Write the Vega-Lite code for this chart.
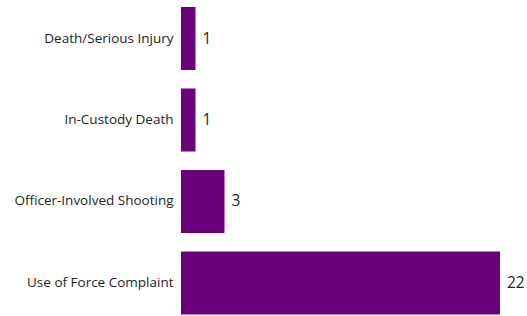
{
  "$schema": "https://vega.github.io/schema/vega-lite/v6.json",
  "autosize": "none",
  "width": 319,
  "height": 321.5,
  "padding": {"left": 181, "top": 0, "right": 27, "bottom": 0},
  "background": "white",
  "data": {
    "values": [
      {"category": "Death/Serious Injury", "count": 1},
      {"category": "In-Custody Death", "count": 1},
      {"category": "Officer-Involved Shooting", "count": 3},
      {"category": "Use of Force Complaint", "count": 22}
    ]
  },
  "config": {"view": {"stroke": null}, "font": "Open Sans"},
  "encoding": {
    "y": {
      "field": "category",
      "type": "nominal",
      "sort": null,
      "scale": {"paddingInner": 0.227, "paddingOuter": 0.086},
      "axis": {
        "title": null,
        "domain": false,
        "ticks": false,
        "labelPadding": 8,
        "labelFontSize": 13.5,
        "labelColor": "#252423",
        "labelFont": "Open Sans",
        "labelLimit": 200
      }
    },
    "x": {
      "field": "count",
      "type": "quantitative",
      "scale": {"domain": [0, 22], "nice": false},
      "axis": null
    }
  },
  "layer": [
    {"mark": {"type": "bar", "color": "#6b007b"}},
    {
      "mark": {"type": "text", "align": "left", "baseline": "middle", "dx": 7, "fontSize": 15.5, "color": "#252423", "font": "Open Sans"},
      "encoding": {"text": {"field": "count", "type": "quantitative"}}
    }
  ]
}
